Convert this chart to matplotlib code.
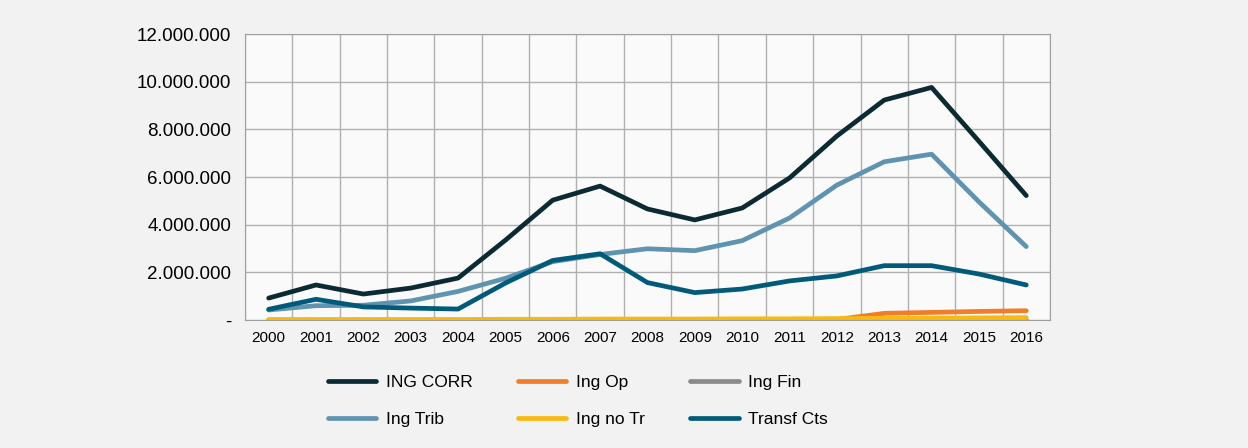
import matplotlib.pyplot as plt
import numpy as np
from matplotlib.ticker import FixedLocator, FuncFormatter

plt.rcParams['font.family'] = ['Liberation Sans', 'DejaVu Sans']

years = list(range(2000, 2017))
ing_corr = [0.92, 1.47, 1.09, 1.34, 1.76, 3.35, 5.03, 5.62, 4.66, 4.20, 4.70, 5.96, 7.72, 9.23, 9.76, 7.50, 5.22]
ing_trib = [0.42, 0.60, 0.62, 0.80, 1.20, 1.75, 2.45, 2.75, 2.99, 2.91, 3.33, 4.28, 5.66, 6.64, 6.96, 4.96, 3.08]
transf_cts = [0.45, 0.87, 0.55, 0.50, 0.46, 1.55, 2.50, 2.78, 1.57, 1.15, 1.30, 1.64, 1.85, 2.28, 2.28, 1.93, 1.47]
ing_op = [0, 0, 0, 0, 0, 0, 0, 0, 0, 0, 0, 0, 0.02, 0.28, 0.32, 0.36, 0.39]
ing_no_tr = [0.02, 0.02, 0.02, 0.02, 0.02, 0.03, 0.03, 0.04, 0.04, 0.04, 0.05, 0.05, 0.06, 0.07, 0.08, 0.09, 0.10]
ing_fin = [0] * 17

x = np.arange(len(years))
fig = plt.figure(figsize=(12.48, 4.48), dpi=100, facecolor='#f2f2f2')
ax = fig.add_axes([0.1963, 0.2857, 0.6450, 0.6383])
ax.set_facecolor('#fafafa')

lw = 3.4
series = [
    ('Ing Fin', ing_fin, '#8a8a8a'),
    ('Ing Op', ing_op, '#ef7d2a'),
    ('Ing no Tr', ing_no_tr, '#f9b90f'),
    ('Ing Trib', ing_trib, '#5f93b0'),
    ('Transf Cts', transf_cts, '#015a7a'),
    ('ING CORR', ing_corr, '#0c2a33'),
]
handles = {}
for name, vals, col in series:
    vals_m = np.array(vals) * 1e6
    h, = ax.plot(x, vals_m, color=col, lw=lw, solid_capstyle='round', label=name)
    handles[name] = h

ax.set_xlim(-0.5, 16.5)
ax.set_ylim(0, 12e6)
ax.set_xticks(x)
ax.set_xticklabels([str(y) for y in years], fontsize=11)
ax.xaxis.set_minor_locator(FixedLocator(np.arange(-0.5, 17, 1)))
ax.set_yticks(np.arange(0, 12.1e6, 2e6))
ax.yaxis.set_major_formatter(FuncFormatter(lambda v, p: '-' if v == 0 else f'{int(v):,}'.replace(',', '.')))
ax.tick_params(axis='y', labelsize=13.5, length=0, pad=10)
ax.tick_params(axis='x', which='both', length=0, pad=8)
ax.grid(True, axis='y', color='#b0b0b0', lw=1.0)
ax.grid(True, axis='x', which='minor', color='#b0b0b0', lw=1.0)
ax.set_axisbelow(True)
for s in ax.spines.values():
    s.set_color('#a0a0a0')

order = ['ING CORR', 'Ing Trib', 'Ing Op', 'Ing no Tr', 'Ing Fin', 'Transf Cts']
fig.legend([handles[n] for n in order], order, ncol=3, loc='center',
           bbox_to_anchor=(0.463, 0.105), frameon=False, fontsize=12.5,
           handlelength=2.8, handletextpad=0.55, columnspacing=2.6, labelspacing=1.25)

fig.savefig('out.png', dpi=100, facecolor=fig.get_facecolor())
